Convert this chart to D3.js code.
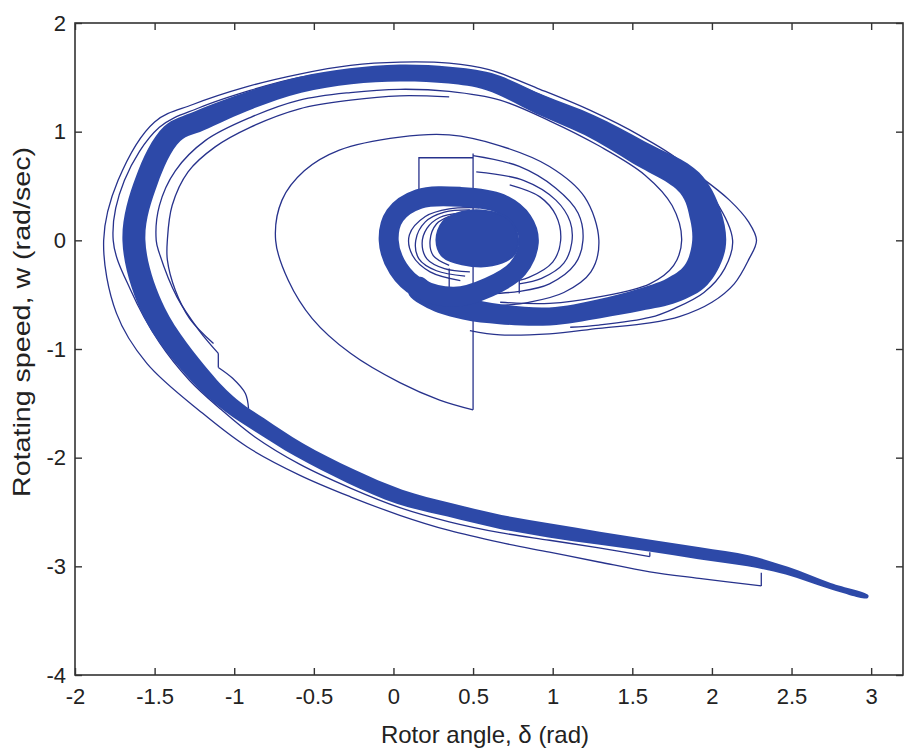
<!DOCTYPE html>
<html>
<head>
<meta charset="utf-8">
<script src="https://cdn.jsdelivr.net/npm/d3@7"></script>
<style>
  body { margin: 0; background: #fff; }
  text { font-family: "Liberation Sans", Arial, sans-serif; fill: #222; }
</style>
</head>
<body>
<svg id="chart" width="913" height="754"></svg>
<script>
// ---- data (rotor angle delta, rotating speed w) ----
const xTicks = [-2, -1.5, -1, -0.5, 0, 0.5, 1, 1.5, 2, 2.5, 3];
const yTicks = [-4, -3, -2, -1, 0, 1, 2];

// centre line of the dense band, from the tail end into the inner ring
const bandCenter = [
  [2.98, -3.28], [2.74, -3.18], [2.47, -3.04], [2.23, -2.95], [1.92, -2.88],
  [1.61, -2.81], [1.29, -2.74], [0.98, -2.67], [0.67, -2.59], [0.35, -2.48],
  [0.04, -2.36], [-0.27, -2.17], [-0.59, -1.93], [-0.84, -1.70], [-1.02, -1.52],
  [-1.20, -1.27], [-1.50, -0.67], [-1.63, 0.00], [-1.55, 0.55], [-1.39, 0.98],
  [-1.22, 1.10], [-0.90, 1.29], [-0.59, 1.43], [-0.27, 1.51], [0.04, 1.54],
  [0.35, 1.52], [0.60, 1.46], [0.92, 1.25], [1.23, 1.06], [1.54, 0.81],
  [1.86, 0.53], [1.96, 0.23], [1.98, -0.05], [1.90, -0.32], [1.75, -0.46],
  [1.54, -0.55], [1.29, -0.63], [0.98, -0.70], [0.67, -0.68], [0.45, -0.63],
  [0.26, -0.55], [0.13, -0.41]
];

// inner ring and the filled core around (0.5, 0)
const ring = [
  [-0.03, 0.00], [0.01, 0.23], [0.16, 0.38], [0.42, 0.40], [0.67, 0.34], [0.81, 0.18],
  [0.85, -0.02], [0.78, -0.26], [0.60, -0.43], [0.38, -0.52], [0.16, -0.44], [0.03, -0.26]
];
const core = [
  [0.27, 0.00], [0.31, 0.17], [0.43, 0.26], [0.58, 0.27], [0.72, 0.20],
  [0.78, 0.04], [0.76, -0.13], [0.62, -0.23], [0.43, -0.22], [0.31, -0.15]
];

// single trajectory strands
const strandOuterA = [
  [2.31, -3.18], [1.92, -3.11], [1.61, -3.05], [1.29, -2.96], [0.98, -2.87],
  [0.67, -2.78], [0.35, -2.67], [0.04, -2.53], [-0.27, -2.36], [-0.59, -2.16],
  [-0.92, -1.90], [-1.20, -1.59], [-1.55, -1.13], [-1.74, -0.67], [-1.82, 0.00],
  [-1.73, 0.55], [-1.50, 1.09], [-1.26, 1.25], [-0.93, 1.41], [-0.59, 1.53],
  [-0.27, 1.61], [0.04, 1.64], [0.35, 1.63], [0.60, 1.57], [0.92, 1.39],
  [1.23, 1.20], [1.54, 0.97], [1.83, 0.69], [1.94, 0.43]
];
const strandOuterB = [
  [1.94, 0.57], [2.11, 0.37], [2.23, 0.17], [2.28, 0.00], [2.23, -0.18],
  [2.14, -0.40], [2.00, -0.57], [1.80, -0.70], [1.61, -0.76], [1.29, -0.81],
  [0.98, -0.86], [0.67, -0.87], [0.48, -0.83]
];
const strandSecond = [
  [1.61, -2.91], [1.29, -2.83], [0.98, -2.76], [0.67, -2.69], [0.35, -2.59],
  [0.04, -2.46], [-0.27, -2.28], [-0.59, -2.06], [-0.87, -1.81], [-1.08, -1.56],
  [-1.28, -1.29], [-1.47, -0.94], [-1.65, -0.46], [-1.76, 0.00], [-1.69, 0.55],
  [-1.47, 1.04], [-1.22, 1.22], [-0.90, 1.38], [-0.59, 1.50], [-0.27, 1.56],
  [0.04, 1.60], [0.35, 1.58], [0.60, 1.53], [0.92, 1.34], [1.23, 1.14],
  [1.54, 0.90], [1.86, 0.63], [2.02, 0.37], [2.13, 0.00], [2.08, -0.26],
  [1.95, -0.48], [1.76, -0.63], [1.61, -0.71], [1.29, -0.78], [1.11, -0.80]
];
const strandInnerA1 = [[-0.91, -1.55], [-0.93, -1.41], [-1.01, -1.27], [-1.10, -1.17]];
const strandInnerA2 = [
  [-1.10, -1.04], [-1.22, -0.83], [-1.36, -0.52], [-1.47, -0.12], [-1.49, 0.00],
  [-1.47, 0.32], [-1.37, 0.64], [-1.18, 0.92], [-0.90, 1.13], [-0.59, 1.29],
  [-0.27, 1.36], [0.04, 1.39], [0.35, 1.37], [0.67, 1.29], [0.98, 1.10],
  [1.29, 0.87], [1.58, 0.60], [1.75, 0.32], [1.81, 0.00], [1.76, -0.23],
  [1.61, -0.40], [1.29, -0.52], [0.98, -0.58], [0.67, -0.57]
];
const strandInnerB = [
  [-1.13, -0.95], [-1.28, -0.72], [-1.37, -0.46], [-1.42, -0.18], [-1.42, 0.00],
  [-1.39, 0.32], [-1.29, 0.63], [-1.12, 0.86], [-0.90, 1.04], [-0.59, 1.21],
  [-0.27, 1.29], [0.04, 1.33], [0.35, 1.32]
];
const strandMiddle = [
  [0.50, -1.56], [0.29, -1.47], [0.04, -1.31], [-0.27, -1.04], [-0.51, -0.72],
  [-0.66, -0.37], [-0.74, 0.00], [-0.70, 0.37], [-0.56, 0.64], [-0.34, 0.83],
  [0.04, 0.95], [0.35, 0.97], [0.67, 0.87], [0.98, 0.68], [1.20, 0.40],
  [1.29, 0.00], [1.24, -0.29], [1.07, -0.48], [0.85, -0.57], [0.67, -0.60]
];
const arcRight1 = [
  [0.50, 0.78], [0.79, 0.68], [1.02, 0.48], [1.16, 0.25], [1.19, 0.00],
  [1.14, -0.22], [0.98, -0.40], [0.79, -0.47], [0.60, -0.49]
];
const arcRight2 = [
  [0.52, 0.63], [0.82, 0.55], [1.02, 0.37], [1.11, 0.17], [1.12, -0.02],
  [1.07, -0.21], [0.93, -0.35], [0.79, -0.40]
];
const arcRight3 = [
  [0.73, 0.51], [0.92, 0.40], [1.02, 0.23], [1.05, 0.00], [1.00, -0.20],
  [0.85, -0.34], [0.70, -0.39]
];
const arcLeft1 = [[0.54, 0.30], [0.35, 0.29], [0.20, 0.22], [0.10, 0.05], [0.12, -0.14], [0.23, -0.29], [0.42, -0.37]];
const arcLeft2 = [[0.48, 0.28], [0.32, 0.26], [0.20, 0.17], [0.14, 0.00], [0.16, -0.17], [0.27, -0.28], [0.45, -0.33]];
const arcLeft3 = [[0.42, 0.25], [0.29, 0.21], [0.21, 0.11], [0.18, -0.03], [0.21, -0.17], [0.32, -0.26], [0.48, -0.29]];
const arcLeft4 = [[0.35, 0.22], [0.27, 0.15], [0.23, 0.00], [0.25, -0.14], [0.35, -0.23]];

// straight switching segments
const stepLines = [
  [[0.50, 0.80], [0.50, -1.56]],
  [[0.16, 0.46], [0.16, 0.76], [0.50, 0.76]]
];
// vertical jumps: [delta, w from, w to]
const jumps = [
  [2.31, -3.06, -3.18], [1.94, 0.43, 0.57], [-1.10, -1.17, -1.04],
  [1.61, -2.87, -2.91], [0.35, -0.26, -0.52], [0.79, -0.20, -0.49]
];

// ---- drawing ----
const BAND = "#2d49a8";
const LINE = "#27328c";

const svg = d3.select("#chart");
const x = d3.scaleLinear().domain([-2, 3.2]).range([75, 903]);
const y = d3.scaleLinear().domain([-4, 2]).range([675, 23]);

const curve = d3.line().x(d => x(d[0])).y(d => y(d[1])).curve(d3.curveCatmullRom.alpha(0.5));
const closed = d3.line().x(d => x(d[0])).y(d => y(d[1])).curve(d3.curveCatmullRomClosed.alpha(0.5));
const straight = d3.line().x(d => x(d[0])).y(d => y(d[1]));

const plot = svg.append("g");

// thin strands
const strands = [strandOuterA, strandOuterB, strandSecond, strandInnerA1, strandInnerA2,
  strandInnerB, strandMiddle, arcRight1, arcRight2, arcRight3,
  arcLeft1, arcLeft2, arcLeft3, arcLeft4];
plot.selectAll("path.strand")
  .data(strands)
  .join("path")
  .attr("class", "strand")
  .attr("d", curve)
  .attr("fill", "none")
  .attr("stroke", LINE)
  .attr("stroke-width", 1.3);

plot.selectAll("path.step")
  .data(stepLines)
  .join("path")
  .attr("class", "step")
  .attr("d", straight)
  .attr("fill", "none")
  .attr("stroke", LINE)
  .attr("stroke-width", 1.3);

plot.selectAll("line.jump")
  .data(jumps)
  .join("line")
  .attr("class", "jump")
  .attr("x1", d => x(d[0])).attr("x2", d => x(d[0]))
  .attr("y1", d => y(d[1])).attr("y2", d => y(d[2]))
  .attr("stroke", LINE)
  .attr("stroke-width", 1.3);

// dense band: ribbon around the centre line, thickness in px along it
const bandPx = [3, 6, 8, 11, 12, 12, 13, 14, 14, 14, 15, 15, 15, 16, 17, 20, 23, 23, 23, 22,
  21, 18, 16, 16, 17, 17, 18, 20, 22, 25, 28, 32, 34, 30, 26, 22, 19, 18, 20, 22, 21, 20];

function ribbon(pts, widths) {
  const p = pts.map(d => [x(d[0]), y(d[1])]);
  const left = [], right = [];
  p.forEach((q, i) => {
    const a = p[Math.max(i - 1, 0)], b = p[Math.min(i + 1, p.length - 1)];
    const dx = b[0] - a[0], dy = b[1] - a[1];
    const n = Math.hypot(dx, dy) || 1;
    const h = widths[i] / 2;
    left.push([q[0] - dy / n * h, q[1] + dx / n * h]);
    right.push([q[0] + dy / n * h, q[1] - dx / n * h]);
  });
  return left.concat(right.reverse());
}

plot.append("path")
  .attr("d", d3.line().curve(d3.curveCatmullRomClosed.alpha(0.5))(ribbon(bandCenter, bandPx)))
  .attr("fill", BAND);

plot.append("path")
  .attr("d", closed(ring))
  .attr("fill", "none")
  .attr("stroke", BAND)
  .attr("stroke-width", 20);

plot.append("path")
  .attr("d", closed(core))
  .attr("fill", BAND)
  .attr("stroke", BAND)
  .attr("stroke-width", 2);

// ---- axes ----
const axes = svg.append("g");
const fmt = d => String(d);

function styleAxis(g) {
  g.select(".domain").remove();
  g.selectAll(".tick line").attr("stroke", "#333").attr("stroke-width", 1.4);
  g.selectAll(".tick text").attr("fill", "#222").attr("font-size", 22)
    .attr("font-family", "Liberation Sans, Arial, sans-serif");
}

axes.append("g")
  .attr("transform", "translate(0,675)")
  .call(d3.axisBottom(x).tickValues(xTicks).tickSize(-7).tickPadding(13).tickFormat(fmt))
  .call(styleAxis);
axes.append("g")
  .attr("transform", "translate(0,23)")
  .call(d3.axisTop(x).tickValues(xTicks).tickSize(-7).tickFormat(""))
  .call(styleAxis);
axes.append("g")
  .attr("transform", "translate(75,0)")
  .call(d3.axisLeft(y).tickValues(yTicks).tickSize(-7).tickPadding(9).tickFormat(fmt))
  .call(styleAxis);
axes.append("g")
  .attr("transform", "translate(903,0)")
  .call(d3.axisRight(y).tickValues(yTicks).tickSize(-7).tickFormat(""))
  .call(styleAxis);

svg.append("rect")
  .attr("x", 75).attr("y", 23)
  .attr("width", 828).attr("height", 652)
  .attr("fill", "none")
  .attr("stroke", "#333")
  .attr("stroke-width", 1.6);

svg.append("text")
  .attr("x", 485).attr("y", 743)
  .attr("text-anchor", "middle")
  .attr("font-size", 24)
  .text("Rotor angle, δ (rad)");

svg.append("text")
  .attr("transform", "translate(30,322) rotate(-90)")
  .attr("text-anchor", "middle")
  .attr("font-size", 24)
  .attr("textLength", 350)
  .attr("lengthAdjust", "spacingAndGlyphs")
  .text("Rotating speed, w (rad/sec)");
</script>
</body>
</html>
